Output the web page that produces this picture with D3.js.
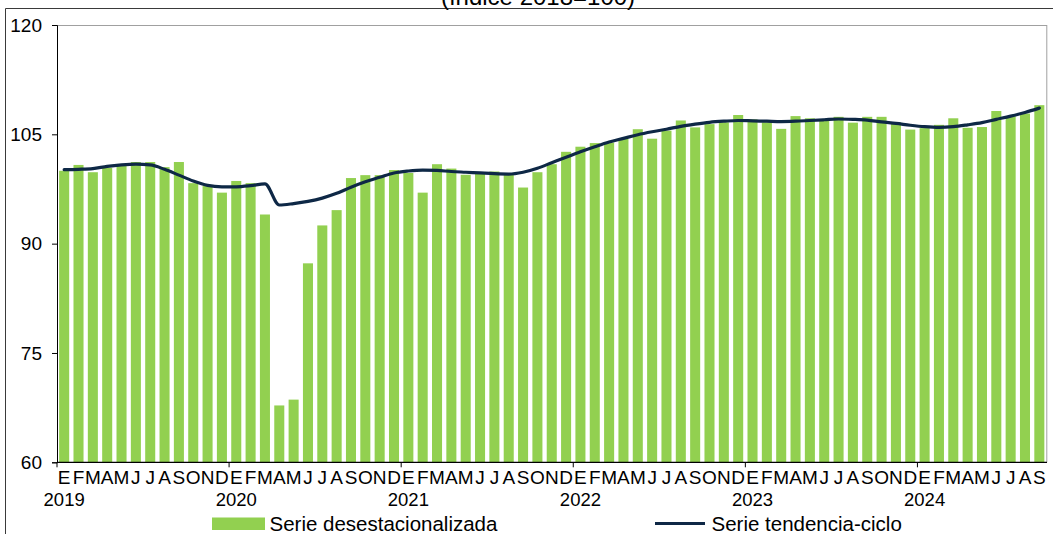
<!DOCTYPE html>
<html>
<head>
<meta charset="utf-8">
<script src="https://cdn.jsdelivr.net/npm/d3@7"></script>
<style>
  html, body { margin: 0; padding: 0; background: #ffffff; }
  svg { display: block; font-family: "Liberation Sans", Arial, sans-serif; }
</style>
</head>
<body>
<svg id="chart" width="1053" height="534"></svg>
<script>
// ---- Data (monthly, Jan 2019 – Sep 2024) ----
const years = ["2019", "2020", "2021", "2022", "2023", "2024"];
const monthLetters = ["E","F","M","A","M","J","J","A","S","O","N","D"];

const seasonal2019 = [100.0, 100.8, 99.8, 100.4, 100.9, 101.2, 101.2, 100.5, 101.2, 98.3, 97.9, 97.0];
const seasonal2020 = [98.6, 98.3, 94.0, 67.8, 68.6, 87.3, 92.5, 94.6, 99.0, 99.4, 99.4, 100.1];
const seasonal2021 = [99.7, 97.0, 100.9, 100.3, 99.45, 99.8, 99.9, 99.55, 97.7, 99.8, 100.9, 102.6];
const seasonal2022 = [103.3, 103.8, 103.85, 104.4, 105.7, 104.4, 105.5, 106.9, 105.95, 106.4, 106.65, 107.65];
const seasonal2023 = [107.05, 106.65, 105.75, 107.5, 107.2, 106.9, 107.4, 106.6, 107.4, 107.4, 106.65, 105.65];
const seasonal2024 = [105.85, 106.3, 107.2, 105.9, 106.0, 108.2, 107.5, 107.85, 109.0];

const trend2019 = [100.15, 100.2, 100.3, 100.6, 100.8, 100.9, 100.8, 100.2, 99.4, 98.6, 98.0, 97.8];
const trend2020 = [97.8, 97.95, 98.2, 95.3, 95.5, 95.8, 96.25, 96.9, 97.75, 98.5, 99.1, 99.7];
const trend2021 = [99.97, 100.1, 100.05, 99.9, 99.8, 99.7, 99.6, 99.55, 99.8, 100.35, 101.1, 101.85];
const trend2022 = [102.6, 103.3, 103.95, 104.45, 104.95, 105.35, 105.7, 106.1, 106.4, 106.65, 106.8, 106.9];
const trend2023 = [106.85, 106.8, 106.75, 106.8, 106.9, 107.0, 107.1, 107.05, 106.95, 106.7, 106.5, 106.25];
const trend2024 = [106.05, 105.95, 106.05, 106.3, 106.6, 107.05, 107.5, 108.0, 108.6];

const yTicks = [60, 75, 90, 105, 120];
const titleText = "(índice 2018=100)";
const legendBars = "Serie desestacionalizada";
const legendLine = "Serie tendencia-ciclo";

const seasonal = [].concat(seasonal2019, seasonal2020, seasonal2021, seasonal2022, seasonal2023, seasonal2024);
const trend = [].concat(trend2019, trend2020, trend2021, trend2022, trend2023, trend2024);
const idx = d3.range(seasonal.length);

// ---- Layout ----
const svg = d3.select("#chart");
const plotLeft = 57, plotRight = 1046.5, plotTop = 25, plotBottom = 462.3;

const x = d3.scaleBand().domain(idx).range([plotLeft, plotRight]).paddingInner(0.3).paddingOuter(0.15);
const y = d3.scaleLinear().domain([60, 120]).range([plotBottom, plotTop]);
const step = x.step();
const slotStart = i => x(i) - x.paddingInner() * step / 2;

// outer frame
svg.append("line").attr("x1", 5.5).attr("x2", 1053).attr("y1", 8.5).attr("y2", 8.5)
  .attr("stroke", "#3a3a3a").attr("stroke-width", 1);
svg.append("line").attr("x1", 5.5).attr("x2", 5.5).attr("y1", 8.5).attr("y2", 534)
  .attr("stroke", "#3a3a3a").attr("stroke-width", 1);

// title (partially clipped at top)
svg.append("text").attr("x", 538).attr("y", 5)
  .attr("text-anchor", "middle").attr("font-size", 24).attr("fill", "#000")
  .text(titleText);

// plot border (top/right gray)
svg.append("line").attr("x1", plotLeft).attr("x2", 1047).attr("y1", plotTop + 0.5).attr("y2", plotTop + 0.5)
  .attr("stroke", "#a0a0a0");
svg.append("line").attr("x1", 1046.8).attr("x2", 1046.8).attr("y1", plotTop).attr("y2", plotBottom)
  .attr("stroke", "#a0a0a0");

// bars
svg.append("g").selectAll("rect").data(idx).join("rect")
  .attr("x", i => x(i))
  .attr("width", x.bandwidth())
  .attr("y", i => y(seasonal[i]))
  .attr("height", i => y(60) - y(seasonal[i]))
  .attr("fill", "#92d050");

// trend line
const line = d3.line()
  .x(i => x(i) + x.bandwidth() / 2)
  .y(i => y(trend[i]))
  .curve(d3.curveMonotoneX);
svg.append("path").datum(idx).attr("d", line)
  .attr("fill", "none").attr("stroke", "#0e2846").attr("stroke-width", 3.2)
  .attr("stroke-linejoin", "round").attr("stroke-linecap", "round");

// y axis
const yAxis = d3.axisLeft(y).tickValues(yTicks).tickSize(5).tickPadding(10).tickFormat(d3.format("d"));
const gy = svg.append("g").attr("transform", `translate(${plotLeft},0)`).call(yAxis);
gy.select(".domain").attr("stroke", "#000");
gy.selectAll(".tick line").attr("stroke", "#000");
gy.selectAll(".tick text").attr("font-size", 19).attr("fill", "#000")
  .attr("font-family", "Liberation Sans, Arial, sans-serif").attr("x", -15);

// x axis baseline
svg.append("line").attr("x1", plotLeft).attr("x2", 1047).attr("y1", plotBottom).attr("y2", plotBottom)
  .attr("stroke", "#000").attr("stroke-width", 1.2);

// year ticks
const yearStarts = years.map((yr, k) => k * 12);
svg.append("g").selectAll("line").data(yearStarts).join("line")
  .attr("x1", i => slotStart(i)).attr("x2", i => slotStart(i))
  .attr("y1", plotBottom).attr("y2", plotBottom + 5)
  .attr("stroke", "#000");

// month letters
svg.append("g").selectAll("text").data(idx).join("text")
  .attr("x", i => x(i) + x.bandwidth() / 2)
  .attr("y", 483.5)
  .attr("text-anchor", "middle").attr("font-size", 19).attr("fill", "#000")
  .text(i => monthLetters[i % 12]);

// year labels
svg.append("g").selectAll("text").data(years).join("text")
  .attr("x", (yr, k) => x(k * 12) + x.bandwidth() / 2)
  .attr("y", 505.5)
  .attr("text-anchor", "middle").attr("font-size", 18.5).attr("fill", "#000")
  .text(d => d);

// legend
svg.append("rect").attr("x", 212).attr("y", 517.5).attr("width", 53).attr("height", 12.5).attr("fill", "#92d050");
svg.append("text").attr("x", 269.5).attr("y", 530.5).attr("font-size", 20.5).attr("fill", "#000").text(legendBars);
svg.append("line").attr("x1", 655).attr("x2", 705).attr("y1", 523.5).attr("y2", 523.5)
  .attr("stroke", "#0e2846").attr("stroke-width", 3.2);
svg.append("text").attr("x", 711.5).attr("y", 530.5).attr("font-size", 20.5).attr("fill", "#000").text(legendLine);
</script>
</body>
</html>
